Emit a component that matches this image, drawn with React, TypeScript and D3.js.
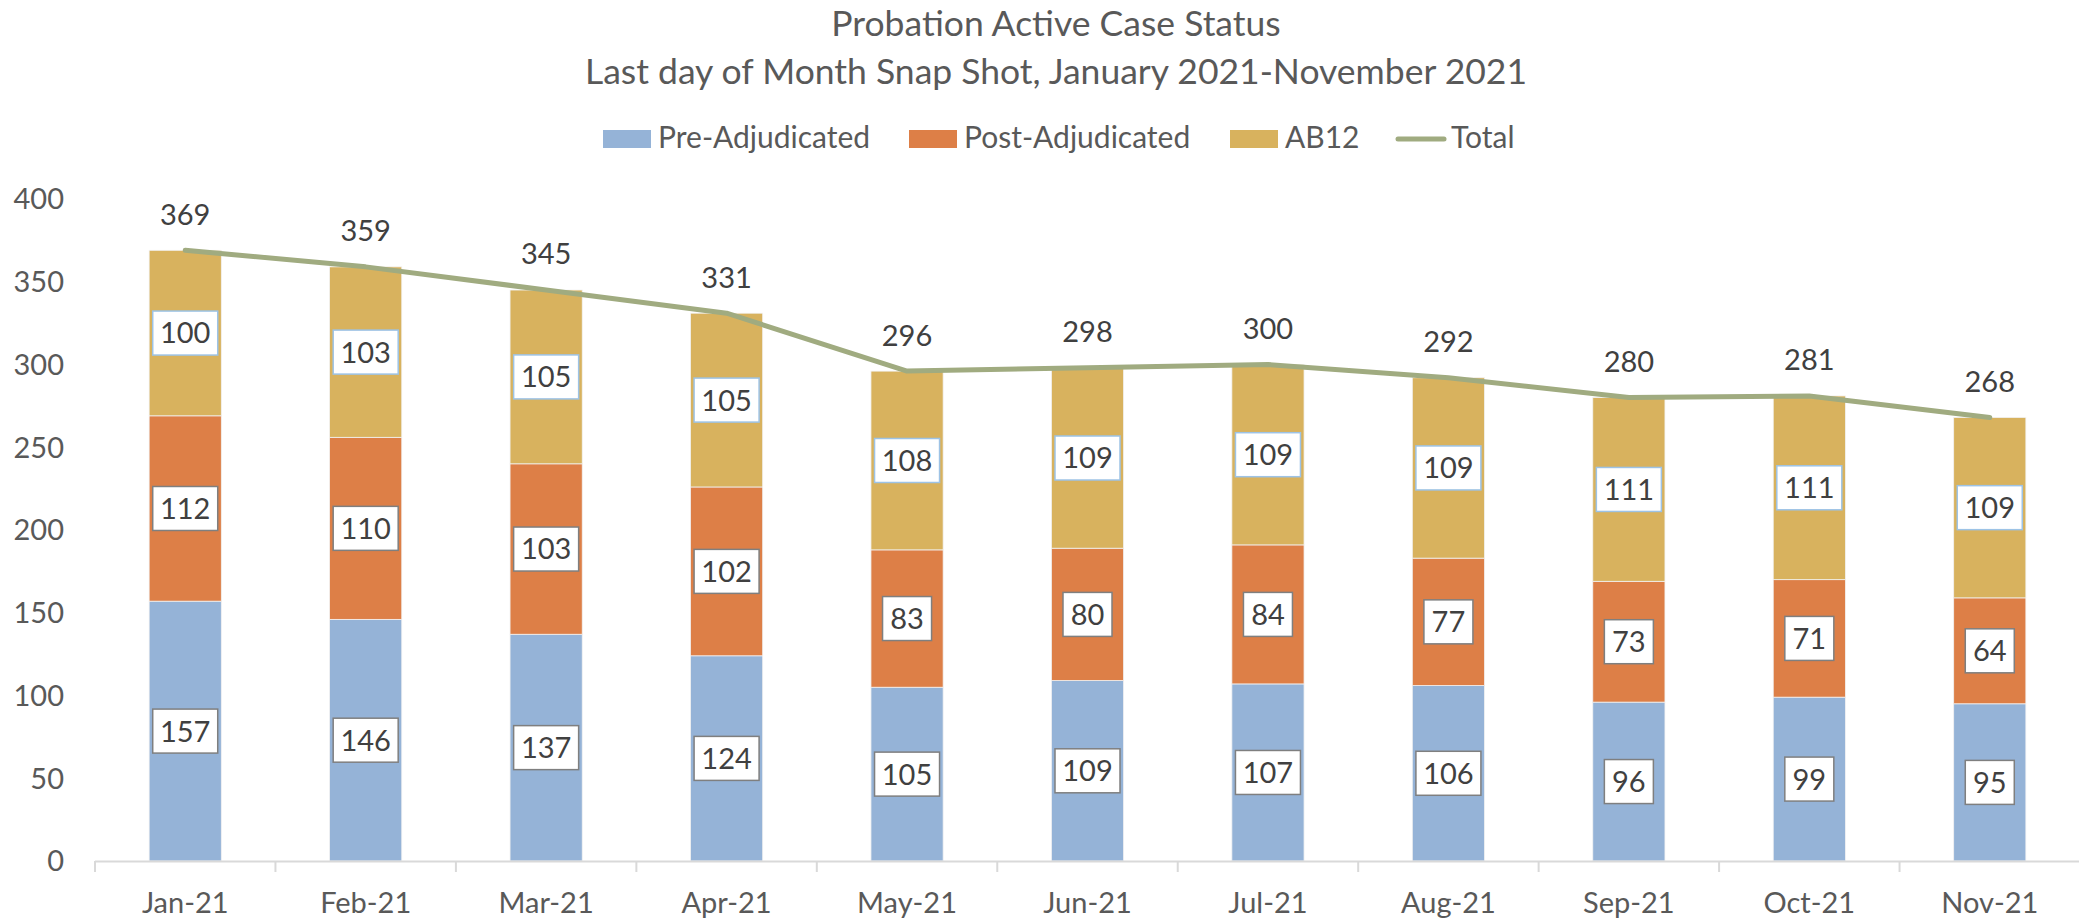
import * as d3 from "d3";

// data
const months = ["Jan-21", "Feb-21", "Mar-21", "Apr-21", "May-21", "Jun-21", "Jul-21", "Aug-21", "Sep-21", "Oct-21", "Nov-21"];
const preAdjudicated = [157, 146, 137, 124, 105, 109, 107, 106, 96, 99, 95];
const postAdjudicated = [112, 110, 103, 102, 83, 80, 84, 77, 73, 71, 64];
const ab12 = [100, 103, 105, 105, 108, 109, 109, 109, 111, 111, 109];
const totals = [369, 359, 345, 331, 296, 298, 300, 292, 280, 281, 268];
const yTicks = [0, 50, 100, 150, 200, 250, 300, 350, 400];

const seriesKeys = ["pre", "post", "ab12"];
const seriesNames = ["Pre-Adjudicated", "Post-Adjudicated", "AB12"];
const seriesColors = ["#95b3d7", "#dd7f47", "#d8b25e"];
const boxStrokes = ["#7f7f7f", "#7f7f7f", "#9dc3e6"];
const lineColor = "#a0ab80";

const W = 2079;
const H = 919;
const FONT = "Lato, 'Open Sans', sans-serif";

const App = () => {
    // таблица для d3.stack
    const table = months.map((m, i) => ({
        month: m,
        pre: preAdjudicated[i],
        post: postAdjudicated[i],
        ab12: ab12[i],
    }));
    const stacked = d3.stack<any>().keys(seriesKeys)(table);

    const x = d3.scaleBand()
        .domain(months)
        .range([95, 2080])
        .paddingInner(0.6)
        .paddingOuter(0.3);
    const y = d3.scaleLinear().domain([0, 400]).range([861, 199]);

    const step = x.step();
    const x0 = 95;
    const cx = (m: string) => (x(m) as number) + x.bandwidth() / 2;

    const line = d3.line<number>()
        .x((_, i) => cx(months[i]))
        .y(d => y(d));

    const boxW = (s: string) => 17 + 16 * s.length;

    const legend = [
        { name: seriesNames[0], color: seriesColors[0], x: 603, kind: "rect" },
        { name: seriesNames[1], color: seriesColors[1], x: 909, kind: "rect" },
        { name: seriesNames[2], color: seriesColors[2], x: 1230, kind: "rect" },
        { name: "Total", color: lineColor, x: 1396, kind: "line" },
    ];

    return (
        <svg width={W} height={H} style={{ position: "absolute", left: 0, top: 0, background: "#fff" }} fontFamily={FONT}>
            {/* заголовок */}
            <text x={1056} y={36} textAnchor="middle" fontSize={35.5} fill="#595959">Probation Active Case Status</text>
            <text x={1056} y={84} textAnchor="middle" fontSize={35.5} fill="#595959">Last day of Month Snap Shot, January 2021-November 2021</text>

            {/* легенда */}
            {legend.map(l => (
                <g key={l.name}>
                    {l.kind === "rect"
                        ? <rect x={l.x} y={130} width={48} height={18} fill={l.color} />
                        : <line x1={l.x + 2} x2={l.x + 48} y1={139} y2={139} stroke={l.color} strokeWidth={5} strokeLinecap="round" />}
                    <text x={l.x + 55} y={148} fontSize={30} fill="#595959">{l.name}</text>
                </g>
            ))}

            {/* ось Y */}
            {yTicks.map(t => (
                <text key={t} x={64} y={y(t)} dy="0.36em" textAnchor="end" fontSize={29} fill="#595959">{t}</text>
            ))}

            {/* столбцы */}
            {stacked.map((s, si) => (
                <g key={s.key}>
                    {s.map((d, i) => (
                        <rect
                            key={i}
                            x={x(months[i])}
                            y={y(d[1])}
                            width={x.bandwidth()}
                            height={y(d[0]) - y(d[1])}
                            fill={seriesColors[si]}
                            stroke="#f2f2f2"
                            strokeWidth={0.8}
                        />
                    ))}
                </g>
            ))}

            {/* ось X */}
            <line x1={x0} x2={W} y1={861.5} y2={861.5} stroke="#d9d9d9" strokeWidth={2} />
            {d3.range(months.length + 1).map(i => (
                <line key={i} x1={x0 + i * step} x2={x0 + i * step} y1={861} y2={872} stroke="#d9d9d9" strokeWidth={2} />
            ))}
            {months.map(m => (
                <text key={m} x={cx(m)} y={913} textAnchor="middle" fontSize={29} fill="#595959">{m}</text>
            ))}

            {/* линия Total */}
            <path d={line(totals) || ""} fill="none" stroke={lineColor} strokeWidth={5} strokeLinejoin="round" strokeLinecap="round" />

            {/* подписи сегментов */}
            {stacked.map((s, si) => (
                <g key={"lab" + s.key}>
                    {s.map((d, i) => {
                        const v = String(d[1] - d[0]);
                        const w = boxW(v);
                        const yc = y((d[0] + d[1]) / 2);
                        return (
                            <g key={i}>
                                <rect x={cx(months[i]) - w / 2} y={yc - 22} width={w} height={44} fill="#fff" stroke={boxStrokes[si]} strokeWidth={1.5} />
                                <text x={cx(months[i])} y={yc} dy="0.36em" textAnchor="middle" fontSize={29} fill="#404040">{v}</text>
                            </g>
                        );
                    })}
                </g>
            ))}

            {/* подписи Total */}
            {totals.map((t, i) => (
                <text key={i} x={cx(months[i])} y={y(t) - 36} dy="0.36em" textAnchor="middle" fontSize={29} fill="#404040">{t}</text>
            ))}
        </svg>
    );
};

export default App;
